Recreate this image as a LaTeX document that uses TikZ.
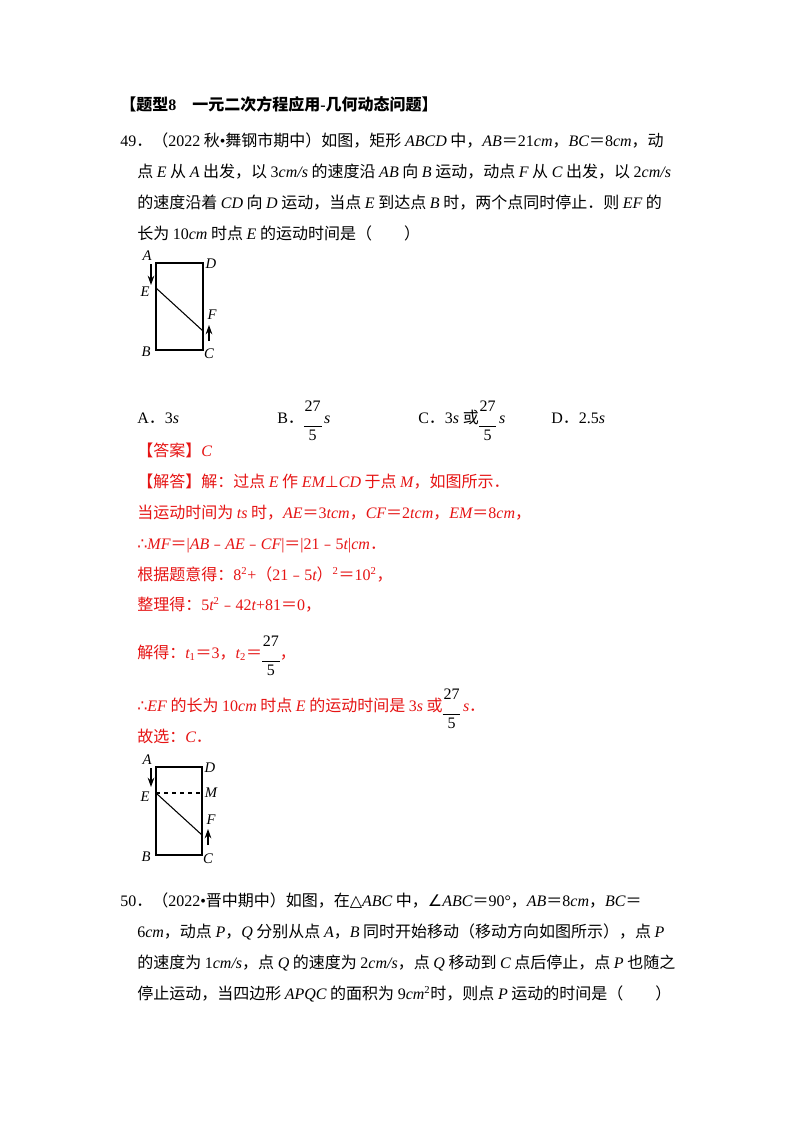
\documentclass[tikz,border=0pt]{standalone}
\usepackage{fontspec}
\setmainfont{Noto Sans CJK SC}
\newfontfamily\lib{Liberation Serif}
\newfontfamily\djv{DejaVu Sans}
\newcommand\la[1]{{\lib #1}}
\newcommand\li[1]{{\lib\itshape #1}}
\newcommand\sy[1]{{\djv #1}}
\newcommand\fr{\raisebox{-0.5ex}{\lib\begin{tabular}{@{}c@{}}\raisebox{0.5ex}{27}\\[-1ex]\rule{1.1em}{0.4pt}\\[-0.6ex]5\end{tabular}}}
\usetikzlibrary{arrows.meta}
\begin{document}
\begin{tikzpicture}[x=0.75pt,y=-0.75pt,
  txt/.style={anchor=base west,inner sep=0pt,font=\fontsize{12}{14}\selectfont},
  red/.style={txt,text={rgb,255:red,230;green,20;blue,20}},
  fig/.style={line width=0.8pt},
  lab/.style={font=\lib\itshape\fontsize{11}{13}\selectfont,inner sep=1pt},
  mv/.style={-{Stealth[length=7pt,width=5pt]},line width=0.8pt}]
\useasboundingbox[fill=white] (0,0) rectangle (800,1132);
\node[txt,font=\bfseries\fontsize{12}{14}\selectfont] (h) at (120,110) {【题型\la{\textbf{8}}　一元二次方程应用\la{\textbf{-}}几何动态问题】};
\node[txt] (l1) at (120,146) {\la{49}．（\la{2022} 秋\la{•}舞钢市期中）如图，矩形 \li{ABCD} 中，\li{AB}＝\la{21}\li{cm}，\li{BC}＝\la{8}\li{cm}，动};
\node[txt] (l2) at (137,177) {点 \li{E} 从 \li{A} 出发，以 \la{3}\li{cm/s} 的速度沿 \li{AB} 向 \li{B} 运动，动点 \li{F} 从 \li{C} 出发，以 \la{2}\li{cm/s}};
\node[txt] (l3) at (137,208) {的速度沿着 \li{CD} 向 \li{D} 运动，当点 \li{E} 到达点 \li{B} 时，两个点同时停止．则 \li{EF} 的};
\node[txt] (l4) at (137,239) {长为 \la{10}\li{cm} 时点 \li{E} 的运动时间是（　　）};
% figure 1
\coordinate (A1) at (156,263); \coordinate (D1) at (203,263);
\coordinate (B1) at (156,350); \coordinate (C1) at (203,350);
\coordinate (E1) at (156,288); \coordinate (F1) at (203,331);
\draw[fig] (A1) rectangle (C1);
\draw[fig] (E1) -- (F1);
\node[lab] (lA1) at (147,256) {A}; \node[lab] (lD1) at (211,264) {D};
\node[lab] (lE1) at (145,292) {E}; \node[lab] (lF1) at (212,315) {F};
\node[lab] (lB1) at (146,352) {B}; \node[lab] (lC1) at (209,354) {C};
\coordinate (a1s) at (151,264); \coordinate (a1e) at (151,285);
\draw[mv] (a1s) -- (a1e);
\coordinate (f1s) at (209,341); \coordinate (f1e) at (209,325);
\draw[mv] (f1s) -- (f1e);
% options
\node[txt] (oA) at (137,423) {\la{A}．\la{3}\li{s}};
\node[txt] (oB) at (277,423) {\la{B}．\fr\,\li{s}};
\node[txt] (oC) at (418,423) {\la{C}．\la{3}\li{s} 或\fr\,\li{s}};
\node[txt] (oD) at (551,423) {\la{D}．\la{2.5}\li{s}};
\node[red] (r1) at (137,456) {【答案】\li{C}};
\node[red] (r2) at (137,487) {【解答】解：过点 \li{E} 作 \li{EM}\sy{⊥}\li{CD} 于点 \li{M}，如图所示．};
\node[red] (r3) at (137,518) {当运动时间为 \li{ts} 时，\li{AE}＝\la{3}\li{tcm}，\li{CF}＝\la{2}\li{tcm}，\li{EM}＝\la{8}\li{cm}，};
\node[red] (r4) at (137,549) {\sy{∴}\li{MF}＝\la{|}\li{AB}﹣\li{AE}﹣\li{CF}\la{|}＝\la{|21}﹣\la{5}\li{t}\la{|}\li{cm}．};
\node[red] (r5) at (137,580) {根据题意得：\la{8\textsuperscript{2}+}（\la{21}﹣\la{5}\li{t}）\la{\textsuperscript{2}}＝\la{10\textsuperscript{2}}，};
\node[red] (r6) at (137,610) {整理得：\la{5}\li{t}\la{\textsuperscript{2}}﹣\la{42}\li{t}\la{+81}＝\la{0}，};
\node[red] (r7) at (137,658) {解得：\li{t}\la{\textsubscript{1}}＝\la{3}，\li{t}\la{\textsubscript{2}}＝{\color{black}\fr}，};
\node[red] (r8) at (137,711) {\sy{∴}\li{EF} 的长为 \la{10}\li{cm} 时点 \li{E} 的运动时间是 \la{3}\li{s} 或{\color{black}\fr}\,\li{s}．};
\node[red] (r9) at (137,742) {故选：\li{C}．};
% figure 2
\coordinate (A2) at (156,767); \coordinate (D2) at (202,767);
\coordinate (B2) at (156,855); \coordinate (C2) at (202,855);
\coordinate (E2) at (156,793); \coordinate (M2) at (202,793);
\coordinate (F2) at (202,835);
\draw[fig] (A2) rectangle (C2);
\draw[fig] (E2) -- (F2);
\draw[fig,dashed] (E2) -- (M2);
\node[lab] (lA2) at (147,760) {A}; \node[lab] (lD2) at (210,768) {D};
\node[lab] (lE2) at (145,797) {E}; \node[lab] (lM2) at (211,793) {M};
\node[lab] (lF2) at (211,820) {F};
\node[lab] (lB2) at (146,857) {B}; \node[lab] (lC2) at (208,859) {C};
\coordinate (a2s) at (151,768); \coordinate (a2e) at (151,787);
\draw[mv] (a2s) -- (a2e);
\coordinate (f2s) at (208,845); \coordinate (f2e) at (208,829);
\draw[mv] (f2s) -- (f2e);
% problem 50
\node[txt] (p1) at (120,906) {\la{50}．（\la{2022•}晋中期中）如图，在\sy{△}\li{ABC} 中，\sy{∠}\li{ABC}＝\la{90°}，\li{AB}＝\la{8}\li{cm}，\li{BC}＝};
\node[txt] (p2) at (137,937) {\la{6}\li{cm}，动点 \li{P}，\li{Q} 分别从点 \li{A}，\li{B} 同时开始移动（移动方向如图所示），点 \li{P}};
\node[txt] (p3) at (137,968) {的速度为 \la{1}\li{cm/s}，点 \li{Q} 的速度为 \la{2}\li{cm/s}，点 \li{Q} 移动到 \li{C} 点后停止，点 \li{P} 也随之};
\node[txt] (p4) at (137,999) {停止运动，当四边形 \li{APQC} 的面积为 \la{9}\li{cm}\la{\textsuperscript{2}}时，则点 \li{P} 运动的时间是（　　）};
\end{tikzpicture}
\end{document}
